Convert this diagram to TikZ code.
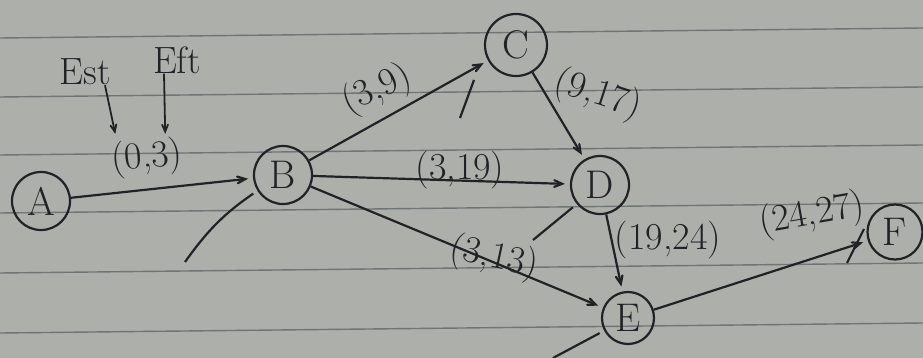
\documentclass[tikz,border=0pt]{standalone}
\usepackage{fontspec}
\usepackage{tikz}
\usetikzlibrary{arrows, positioning, shapes, calc}

\definecolor{paper}{RGB}{172,175,170}
\definecolor{rulecol}{RGB}{112,117,118}
\definecolor{ink}{RGB}{34,34,38}

\begin{document}
\begin{tikzpicture}[x=1pt, y=-1pt, auto]
% 定义节点样式
\tikzstyle{event} = [circle, draw=ink, line width=2.2pt, minimum size=58pt, inner sep=0pt, text=ink, font=\fontsize{40}{44}\selectfont]
\tikzstyle{time} = [text=ink, inner sep=0pt, font=\fontsize{38}{42}\selectfont]
\tikzstyle{line} = [draw=ink, line width=2.2pt, -angle 45, shorten >=5pt]
\tikzstyle{stroke} = [draw=ink, line width=2.2pt]

% 纸张和横线
\fill [paper] (0,0) rectangle (923,358);
\useasboundingbox (0,0) rectangle (923,358);
\foreach \ry in {38,97,155,213,273,333}
  \draw [rulecol, line width=1.4pt] (0,\ry) -- (923,\ry-10);

% 绘制事件节点
\node [event] (A) at (41,201) {A};
\node [event] (B) at (283,175) {B};
\node [event, minimum size=62pt] (C) at (516,45) {C};
\node [event] (D) at (600,185) {D};
\node [event, minimum size=52pt] (E) at (628,318) {E};
\node [event, minimum size=55pt] (F) at (895,232) {F};

% 连接节点
\path [line] (A) -- (B);
\path [line] (B) -- (C);
\path [line] (C) -- (D);
\path [line] (B) -- (D);
\path [line] (B) -- (E);
\path [line] (D) -- (E);
\path [line] (E) -- (F);

% 箭头下方的短线
\coordinate (tailB) at (185,262);
\coordinate (tailC) at (460,118);
\coordinate (endC) at (474,80);
\coordinate (tailD) at (533,240);
\coordinate (tailE) at (553,358);
\coordinate (tailF) at (847,263);
\coordinate (endF) at (864,229);
\path [stroke, shorten >=5pt] (tailB) to [bend left=10] (B);
\path [stroke] (tailC) -- (endC);
\path [stroke, shorten >=5pt] (tailD) -- (D);
\path [stroke, shorten >=5pt] (tailE) -- (E);
\path [stroke] (tailF) -- (endF);

% 添加标签 (Est, Eft)
\node [time, rotate=5] (tAB) at (147,158) {(0,3)};
\node [time, rotate=25] (tBC) at (377,90) {(3,9)};
\node [time, rotate=-18] (tCD) at (598,95) {(9,17)};
\node [time] (tBD) at (460,170) {(3,19)};
\node [time, rotate=-12] (tBE) at (494,258) {(3,13)};
\node [time] (tDE) at (668,240) {(19,24)};
\node [time, rotate=10] (tEF) at (812,215) {(24,27)};

\node [time] (est) at (85,72) {Est};
\node [time] (eft) at (177,60) {Eft};
\path [line, line width=1.8pt] ([xshift=20pt]est.south) -- ([xshift=-29pt]tAB.north);
\path [line, line width=1.8pt] ([xshift=-13pt]eft.south) -- ([xshift=20pt]tAB.north);
\end{tikzpicture}
\end{document}
